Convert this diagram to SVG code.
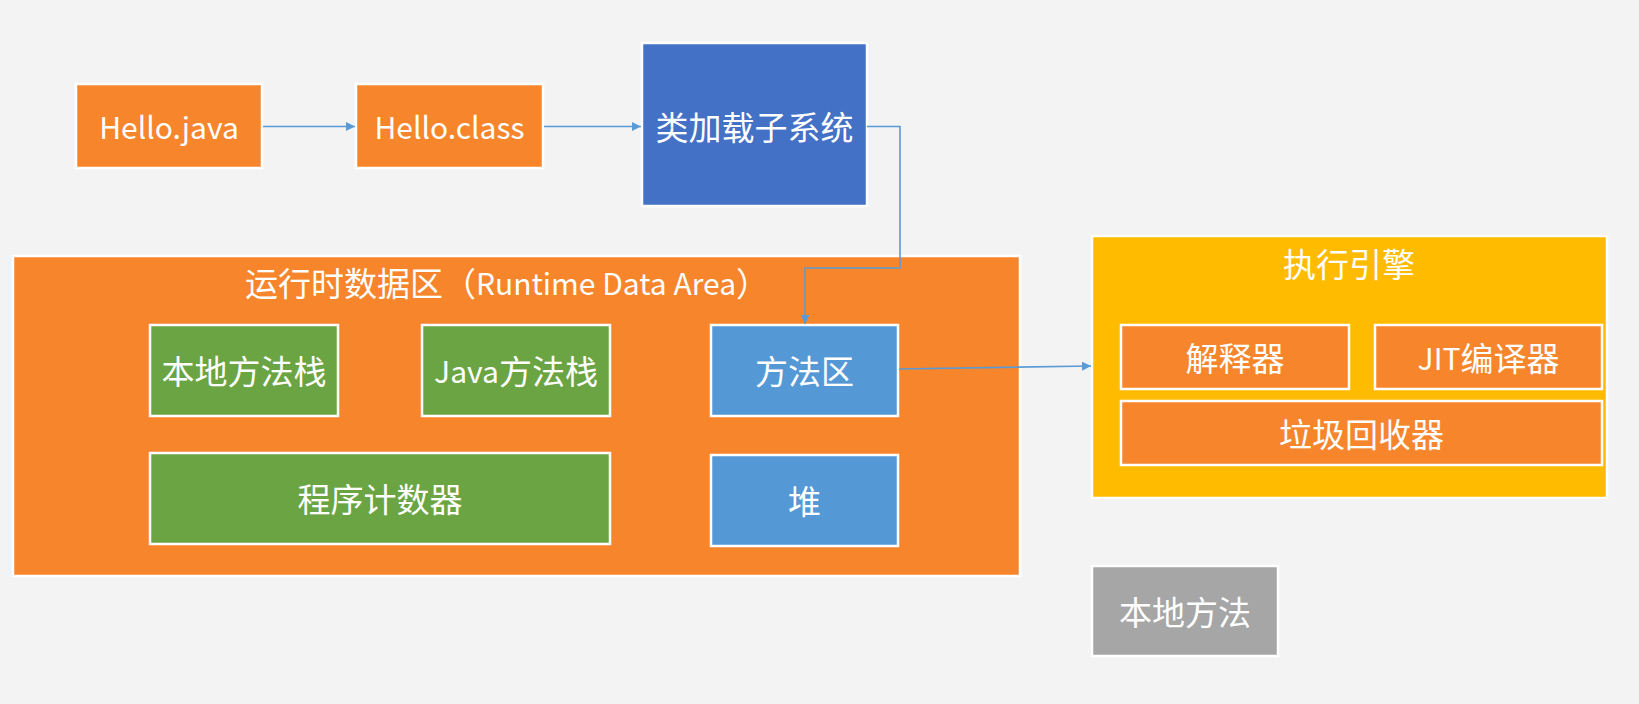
<svg xmlns="http://www.w3.org/2000/svg" width="1639" height="704" viewBox="0 0 1639 704">
<style>
.bx{stroke:#ffffff;stroke-width:2.5}
.or{fill:#F6852C}
.gr{fill:#6BA443}
.bl{fill:#5598D6}
.db{fill:#4271C6}
.gd{fill:#FFBB00}
.gy{fill:#A6A6A6}
.t{fill:#ffffff;font-family:"Noto Sans CJK SC","Noto Sans",sans-serif;font-size:33px;text-anchor:middle;dominant-baseline:central}
.l{font-size:30px}
.c{fill:none;stroke:#5B9BD5;stroke-width:1.6}
</style>
<defs>
<marker id="ah" viewBox="0 0 10 10" refX="10" refY="5" markerWidth="9" markerHeight="9" markerUnits="userSpaceOnUse" orient="auto">
<path d="M0,0 L10,5 L0,10 z" fill="#5B9BD5"/>
</marker>
</defs>
<rect width="1639" height="704" fill="#F3F3F3"/>
<g id="hello-java"><rect class="bx or" x="76" y="84" width="186" height="84"/><text class="t l" x="169" y="126">Hello.java</text></g>
<g id="hello-class"><rect class="bx or" x="356" y="84" width="187" height="84"/><text class="t l" x="449.5" y="126">Hello.class</text></g>
<g id="classloader"><rect class="bx db" x="642" y="43" width="225" height="163"/><text class="t" x="754.5" y="126">类加载子系统</text></g>
<g id="runtime-area"><rect class="bx or" x="13" y="256" width="1007" height="320"/><text class="t" x="507" y="282">运行时数据区（<tspan class="l">Runtime Data Area</tspan>）</text></g>
<g id="native-stack"><rect class="bx gr" x="150" y="325" width="188" height="91"/><text class="t" x="244" y="370">本地方法栈</text></g>
<g id="java-stack"><rect class="bx gr" x="422" y="325" width="188" height="91"/><text class="t" x="516" y="370"><tspan class="l">Java</tspan>方法栈</text></g>
<g id="method-area"><rect class="bx bl" x="711" y="325" width="187" height="91"/><text class="t" x="804.5" y="370">方法区</text></g>
<g id="pc"><rect class="bx gr" x="150" y="453" width="460" height="91"/><text class="t" x="380" y="498">程序计数器</text></g>
<g id="heap"><rect class="bx bl" x="711" y="455" width="187" height="91"/><text class="t" x="804.5" y="500">堆</text></g>
<g id="exec-engine"><rect class="bx gd" x="1092" y="236" width="515" height="262"/><text class="t" x="1349" y="263">执行引擎</text></g>
<g id="interpreter"><rect class="bx or" x="1121" y="325" width="228" height="64"/><text class="t" x="1235" y="357">解释器</text></g>
<g id="jit"><rect class="bx or" x="1375" y="325" width="227" height="64"/><text class="t" x="1488.5" y="357"><tspan class="l">JIT</tspan>编译器</text></g>
<g id="gc"><rect class="bx or" x="1121" y="401" width="481" height="64"/><text class="t" x="1361.5" y="433">垃圾回收器</text></g>
<g id="native-method"><rect class="bx gy" x="1092" y="566" width="186" height="90"/><text class="t" x="1185" y="611">本地方法</text></g>
<g id="connectors">
<path class="c" d="M263,126.5 H355" marker-end="url(#ah)"/>
<path class="c" d="M544,126.5 H641" marker-end="url(#ah)"/>
<path class="c" d="M867,126.5 H900 V268 H805 V324" marker-end="url(#ah)"/>
<path class="c" d="M899,369 L1091,366" marker-end="url(#ah)"/>
</g>
</svg>
